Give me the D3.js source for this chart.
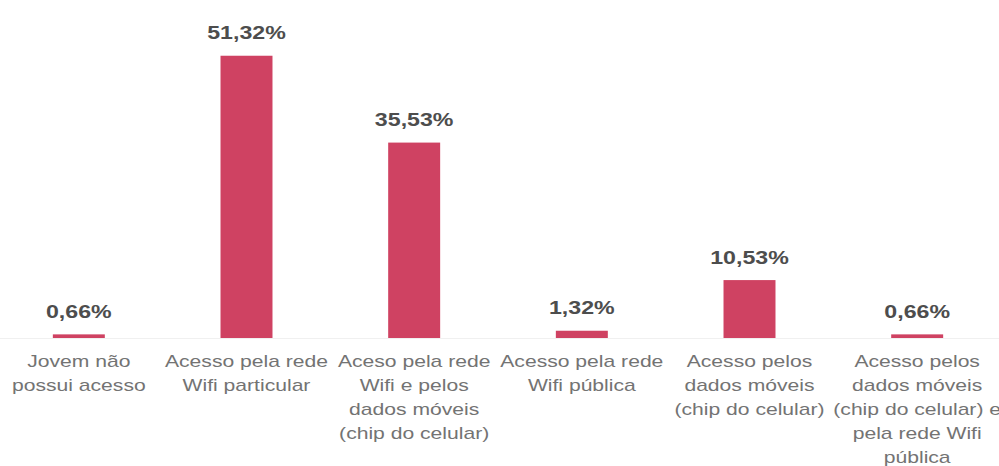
<!DOCTYPE html>
<html>
<head>
<meta charset="utf-8">
<script src="https://cdn.jsdelivr.net/npm/d3@7"></script>
<style>
  html, body { margin: 0; padding: 0; background: #fff; }
  svg { display: block; }
</style>
</head>
<body>
<svg id="chart" width="999" height="466"></svg>
<script>
// Forma de acesso à internet dos jovens (%)
const categories = [
  ["Jovem não", "possui acesso"],
  ["Acesso pela rede", "Wifi particular"],
  ["Aceso pela rede", "Wifi e pelos", "dados móveis", "(chip do celular)"],
  ["Acesso pela rede", "Wifi pública"],
  ["Acesso pelos", "dados móveis", "(chip do celular)"],
  ["Acesso pelos", "dados móveis", "(chip do celular) e", "pela rede Wifi", "pública"]
];
const values = [0.66, 51.32, 35.53, 1.32, 10.53, 0.66];
const valueLabels = ["0,66%", "51,32%", "35,53%", "1,32%", "10,53%", "0,66%"];

const svg = d3.select("#chart");
const W = 999, baseY = 338;

const x = d3.scaleBand()
  .domain(d3.range(values.length))
  .range([-5, W + 2])
  .paddingInner(0.69)
  .paddingOuter(0.345);

const y = d3.scaleLinear().domain([0, 60]).range([baseY, 8]);

// faint baseline
svg.append("line")
  .attr("x1", 0).attr("x2", W)
  .attr("y1", baseY + 0.5).attr("y2", baseY + 0.5)
  .attr("stroke", "#f0f0f0").attr("stroke-width", 1);

// bars
svg.selectAll("rect.bar")
  .data(values)
  .join("rect")
  .attr("class", "bar")
  .attr("x", (d, i) => x(i))
  .attr("width", x.bandwidth())
  .attr("y", d => y(d))
  .attr("height", d => baseY - y(d))
  .attr("fill", "#cf4262");

// value labels
svg.selectAll("text.val")
  .data(values)
  .join("text")
  .attr("class", "val")
  .attr("transform", (d, i) => `translate(${x(i) + x.bandwidth() / 2},${y(d) - 16.5}) scale(1.22,1)`)
  .attr("text-anchor", "middle")
  .attr("font-family", "Liberation Sans, Arial, sans-serif")
  .attr("font-weight", "bold")
  .attr("font-size", 19)
  .attr("fill", "#4d4d4d")
  .text((d, i) => valueLabels[i]);

// category labels
const cat = svg.selectAll("g.cat")
  .data(categories)
  .join("g")
  .attr("class", "cat")
  .attr("transform", (d, i) => `translate(${x(i) + x.bandwidth() / 2},367) scale(1.32,1)`);

cat.selectAll("text")
  .data(d => d)
  .join("text")
  .attr("y", (d, j) => j * 24)
  .attr("text-anchor", "middle")
  .attr("font-family", "Liberation Sans, Arial, sans-serif")
  .attr("font-size", 16)
  .attr("fill", "#737373")
  .text(d => d);
</script>
</body>
</html>
